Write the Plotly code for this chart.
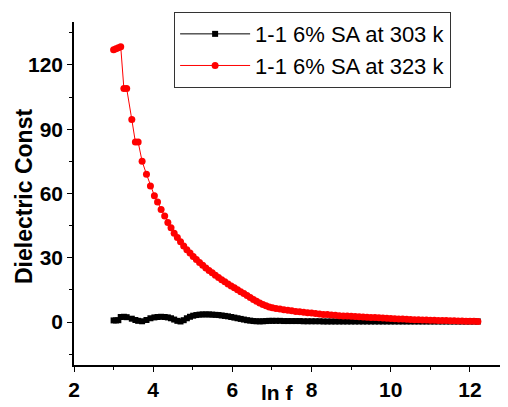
import plotly.graph_objects as go

# --- Données --------------------------------------------------------------
# 1-1 6% SA à 323 K (rouge)
ln_f_323 = [3.00, 3.06, 3.12, 3.18, 3.26, 3.33, 3.46, 3.55, 3.62, 3.72, 3.83, 3.93,
            4.03, 4.11, 4.20, 4.29, 4.37, 4.45, 4.53, 4.61, 4.69, 4.77, 4.85, 4.93,
            5.01, 5.09, 5.17, 5.25, 5.33, 5.41, 5.49, 5.57, 5.65, 5.73, 5.81, 5.89,
            5.97, 6.05, 6.13, 6.21, 6.29, 6.37, 6.45, 6.53, 6.61, 6.69, 6.77, 6.85,
            6.93, 7.01, 7.10, 7.20, 7.30, 7.40, 7.50, 7.60, 7.70, 7.80, 7.90, 8.00,
            8.10, 8.20, 8.30, 8.40, 8.50, 8.60, 8.70, 8.80, 8.90, 9.00, 9.10, 9.20,
            9.30, 9.40, 9.50, 9.60, 9.70, 9.80, 9.90, 10.00, 10.10, 10.20, 10.30,
            10.40, 10.50, 10.60, 10.70, 10.80, 10.90, 11.00, 11.10, 11.20, 11.30,
            11.40, 11.50, 11.60, 11.70, 11.80, 11.90, 12.00, 12.10, 12.20]
eps_323 = [127.0, 127.5, 128.0, 128.5, 109.0, 109.0, 94.5, 84.0, 84.0, 75.0, 69.0, 63.5,
           59.0, 56.0, 52.5, 49.5, 46.5, 44.0, 41.5, 39.5, 37.5, 35.5, 33.8, 32.2,
           30.6, 29.2, 27.8, 26.5, 25.3, 24.1, 23.0, 21.9, 20.8, 19.8, 18.8, 17.8,
           16.9, 16.0, 15.1, 14.2, 13.3, 12.4, 11.5, 10.6, 9.7, 8.9, 8.2, 7.6,
           7.1, 6.7, 6.4, 6.1, 5.8, 5.5, 5.3, 5.0, 4.8, 4.6, 4.4, 4.2,
           4.0, 3.8, 3.6, 3.5, 3.3, 3.2, 3.0, 2.9, 2.8, 2.7, 2.6, 2.5,
           2.4, 2.3, 2.2, 2.1, 2.0, 1.9, 1.8, 1.7, 1.6, 1.5, 1.4,
           1.3, 1.2, 1.15, 1.1, 1.0, 0.95, 0.9, 0.85, 0.8, 0.75,
           0.7, 0.65, 0.6, 0.55, 0.5, 0.45, 0.4, 0.35, 0.3]

# 1-1 6% SA à 303 K (noir)
ln_f_303 = ln_f_323
eps_303 = [0.8, 0.8, 0.9, 2.4, 2.5, 2.3, 1.6, 1.0, 0.6, 0.4, 1.0, 1.8,
           2.2, 2.4, 2.5, 2.4, 2.2, 1.8, 1.2, 0.6, 0.3, 0.9, 1.8, 2.5,
           3.0, 3.3, 3.5, 3.6, 3.6, 3.6, 3.5, 3.4, 3.3, 3.1, 2.9, 2.7,
           2.4, 2.1, 1.8, 1.5, 1.2, 0.9, 0.7, 0.5, 0.4, 0.35, 0.4, 0.5,
           0.6, 0.6, 0.6, 0.6, 0.5, 0.5, 0.5, 0.5, 0.5, 0.4, 0.4, 0.4,
           0.4, 0.4, 0.3, 0.3, 0.3, 0.3, 0.3, 0.3, 0.3, 0.3, 0.3, 0.3,
           0.3, 0.3, 0.3, 0.3, 0.3, 0.3, 0.3, 0.3, 0.3, 0.3, 0.3,
           0.3, 0.3, 0.3, 0.3, 0.3, 0.3, 0.3, 0.3, 0.3, 0.3,
           0.3, 0.3, 0.3, 0.3, 0.3, 0.3, 0.3, 0.3, 0.3]

FONT = "Arial, Liberation Sans, sans-serif"

fig = go.Figure()
fig.add_trace(go.Scatter(x=ln_f_303, y=eps_303, mode="lines+markers",
                         name="1-1 6% SA at 303 k",
                         line=dict(color="black", width=1),
                         marker=dict(symbol="square", size=6, color="black")))
fig.add_trace(go.Scatter(x=ln_f_323, y=eps_323, mode="lines+markers",
                         name="1-1 6% SA at 323 k",
                         line=dict(color="red", width=1),
                         marker=dict(symbol="circle", size=7, color="red")))

axe = dict(showline=True, linecolor="black", linewidth=1.5, showgrid=False,
           zeroline=False, ticks="outside", ticklen=5, tickwidth=1,
           tickcolor="black", mirror=False, automargin=False,
           tickfont=dict(family=FONT, size=21, color="black", weight="bold"))

# la page ajoute une marge de 8 px autour du graphe : on la compense ici
fig.update_layout(
    width=508, height=407,
    margin=dict(l=66, r=8, t=14, b=50, autoexpand=False),
    paper_bgcolor="white", plot_bgcolor="white",
    font=dict(family=FONT, color="black"),
    xaxis=dict(axe, range=[2, 12.96], dtick=2, tick0=2,
               minor=dict(ticks="outside", ticklen=3, dtick=1, tick0=2,
                          tickcolor="black")),
    yaxis=dict(axe, range=[-20, 140], dtick=30, tick0=0,
               minor=dict(ticks="outside", ticklen=3, dtick=15, tick0=0,
                          tickcolor="black")),
    legend=dict(x=0.327, y=0.99, xref="container", yref="container",
                xanchor="left", yanchor="top",
                bgcolor="white", bordercolor="#333", borderwidth=1,
                itemwidth=70, tracegroupgap=0,
                font=dict(family=FONT, size=22, color="black")),
    showlegend=True,
)

fig.add_annotation(x=7.13, y=-0.079, xref="x", yref="paper", text="<b>ln f</b>",
                   showarrow=False, yanchor="middle",
                   font=dict(family=FONT, size=21, color="black"))
fig.add_annotation(x=-0.115, y=0.49, xref="paper", yref="paper",
                   text="<b>Dielectric Const</b>", textangle=-90,
                   showarrow=False, xanchor="center", yanchor="middle",
                   font=dict(family=FONT, size=23, color="black"))

fig.write_html("out.html")
